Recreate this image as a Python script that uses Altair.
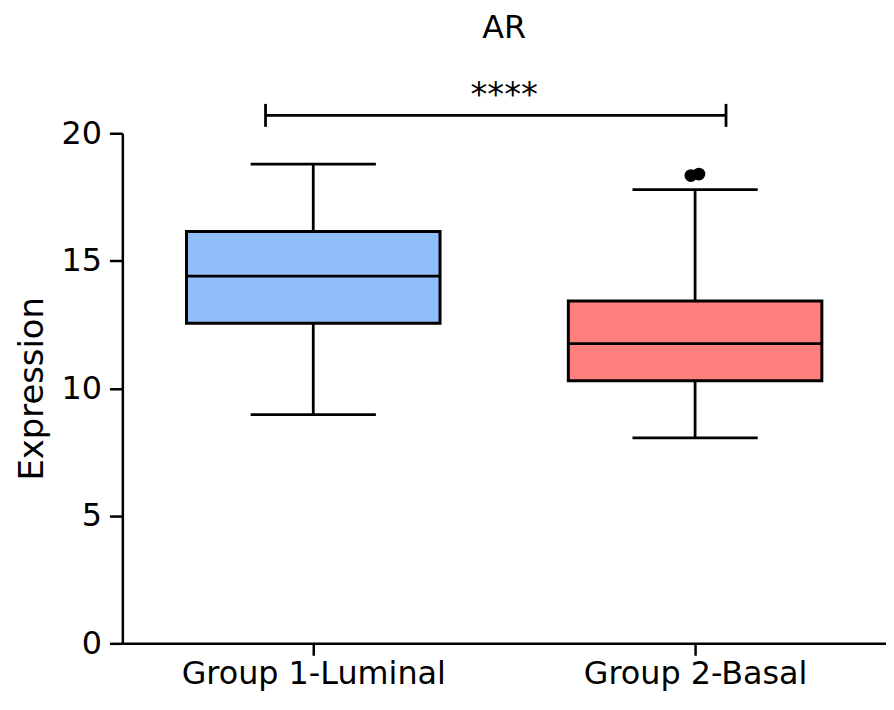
import altair as alt
import pandas as pd

# ---- data ----
groups = ["Group 1-Luminal", "Group 2-Basal"]
positions = [0.5, 1.5]
lower = [8.97, 8.06]
q1 = [12.55, 10.30]
median = [14.40, 11.75]
q3 = [16.15, 13.42]
upper = [18.79, 17.79]
fills = ["#90BEF8", "#FF7F7F"]

outlier_pos = [1.489, 1.51]
outlier_val = [18.34, 18.40]

bracket_start = [0.375]
bracket_end = [1.581]
bracket_y = [20.70]
bracket_tick_low = [20.25]
bracket_tick_high = [21.15]
sig_label = ["****"]
sig_pos = [1.0]

box_half = 0.332
cap_half = 0.164

FONT = "DejaVu Sans"

boxes = pd.DataFrame({
    "group": groups, "pos": positions, "lower": lower, "q1": q1,
    "median": median, "q3": q3, "upper": upper, "fill": fills,
})
boxes["left"] = boxes["pos"] - box_half
boxes["right"] = boxes["pos"] + box_half
boxes["capl"] = boxes["pos"] - cap_half
boxes["capr"] = boxes["pos"] + cap_half

outliers = pd.DataFrame({"pos": outlier_pos, "val": outlier_val})

bracket = pd.DataFrame({
    "x1": bracket_start, "x2": bracket_end, "y": bracket_y,
    "lo": bracket_tick_low, "hi": bracket_tick_high,
    "label": sig_label, "mid": sig_pos,
})
bracket_ends = pd.DataFrame({
    "x": bracket_start + bracket_end,
    "lo": bracket_tick_low * 2,
    "hi": bracket_tick_high * 2,
})

label_expr = " : ".join(
    f"datum.value == {p} ? '{g}'" for p, g in zip(positions, groups)
) + " : ''"

xscale = alt.Scale(domain=[0, 2], nice=False, zero=False)
yscale = alt.Scale(domain=[0, 20], nice=False)

xaxis = alt.Axis(
    values=positions, labelExpr=label_expr, title=None, grid=False,
    domainColor="black", domainWidth=2.5, tickColor="black", tickWidth=2.5,
    tickSize=12, labelFont=FONT, labelFontSize=32, labelColor="black",
    labelPadding=3, labelLimit=500,
)
yaxis = alt.Axis(
    values=[0, 5, 10, 15, 20], title="Expression", grid=False,
    domainColor="black", domainWidth=2.5, tickColor="black", tickWidth=2.5,
    tickSize=13, labelFont=FONT, labelFontSize=32, labelColor="black",
    labelPadding=8, titleFont=FONT, titleFontSize=34, titleFontWeight="normal",
    titleColor="black", titlePadding=12,
)


def X(field):
    return alt.X(field, type="quantitative", scale=xscale, axis=xaxis)


def Y(field):
    return alt.Y(field, type="quantitative", scale=yscale, axis=yaxis)


base = alt.Chart(boxes)

whisker_up = base.mark_rule(color="black", strokeWidth=2.8).encode(
    x=X("pos"), y=Y("q3"), y2="upper")
whisker_dn = base.mark_rule(color="black", strokeWidth=2.8).encode(
    x=X("pos"), y=Y("lower"), y2="q1")
cap_up = base.mark_rule(color="black", strokeWidth=2.8).encode(
    x=X("capl"), x2="capr", y=Y("upper"))
cap_dn = base.mark_rule(color="black", strokeWidth=2.8).encode(
    x=X("capl"), x2="capr", y=Y("lower"))
box = base.mark_rect(stroke="black", strokeWidth=3).encode(
    x=X("left"), x2="right", y=Y("q1"), y2="q3",
    fill=alt.Fill("fill:N", scale=None))
med = base.mark_rule(color="black", strokeWidth=2.8).encode(
    x=X("left"), x2="right", y=Y("median"))

pts = alt.Chart(outliers).mark_point(
    filled=True, color="black", size=165, opacity=1).encode(
    x=X("pos"), y=Y("val"))

br_line = alt.Chart(bracket).mark_rule(color="black", strokeWidth=2.8).encode(
    x=X("x1"), x2="x2", y=Y("y"))
br_ends = alt.Chart(bracket_ends).mark_rule(color="black", strokeWidth=2.8).encode(
    x=X("x"), y=Y("lo"), y2="hi")
br_text = alt.Chart(bracket).mark_text(
    font=FONT, fontSize=34, color="black", baseline="alphabetic", dy=-9).encode(
    x=X("mid"), y=Y("y"), text="label:N")

chart = alt.layer(
    whisker_up, whisker_dn, cap_up, cap_dn, box, med, pts,
    br_line, br_ends, br_text,
).properties(
    width=768, height=513,
    title=alt.Title("AR", font=FONT, fontSize=32, fontWeight="normal",
                    color="black", anchor="middle", offset=35),
    padding={"left": 115, "top": 124, "right": 0, "bottom": 50},
    autosize=alt.AutoSizeParams(type="none"),
).configure_view(stroke=None)

chart.save("out.html", embed_options={"renderer": "svg", "actions": False})
